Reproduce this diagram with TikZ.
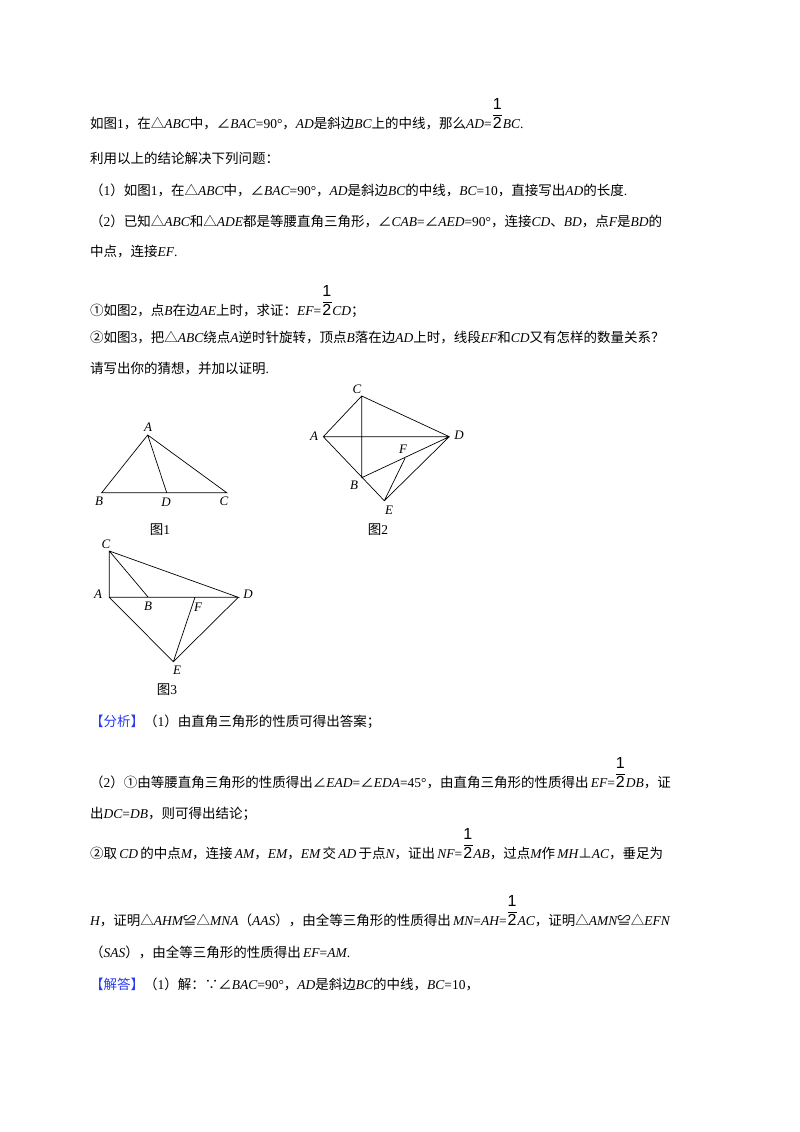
\documentclass[tikz,border=0pt]{standalone}
\usepackage{fontspec}
\setmainfont{Noto Sans CJK SC}
\newfontfamily\latf{Liberation Serif}
\newfontfamily\fracf{Liberation Sans}
\newcommand{\m}[1]{{\latf\itshape #1}}
\newcommand{\up}[1]{{\latf #1}}
\newcommand{\hf}{\raisebox{0pt}[0pt][0pt]{\makebox[11pt]{\fontsize{16}{16}\fracf\rlap{\raisebox{19pt}{1}}\rlap{\hspace{0.5pt}\raisebox{12.5pt}{\rule{9pt}{1pt}}}2}}}
\definecolor{hblue}{HTML}{2B3BF0}
\begin{document}
\begin{tikzpicture}[x=1pt,y=-1pt,
  txt/.style={anchor=west,inner sep=0pt,font=\fontsize{13.5}{14}\selectfont},
  lab/.style={inner sep=1pt,font=\fontsize{13}{13}\latf\itshape},
  figcap/.style={inner sep=0pt,font=\fontsize{13.5}{14}\selectfont},
  seg/.style={line width=0.7pt}]
\useasboundingbox[fill=white] (0,0) rectangle (800,1132);
\node[txt] (l1) at (90,124) {如图\up{1}，在△\m{ABC}中，∠\m{BAC}\up{=90°}，\m{AD}是斜边\m{BC}上的中线，那么\m{AD}\up{=}\hf\m{BC}\up{.}};
\node[txt] (l2) at (90,158) {利用以上的结论解决下列问题：};
\node[txt] (l3) at (90,190) {（\up{1}）如图\up{1}，在△\m{ABC}中，∠\m{BAC}\up{=90°}，\m{AD}是斜边\m{BC}的中线，\m{BC}\up{=10}，直接写出\m{AD}的长度\up{.}};
\node[txt] (l4) at (90,221) {（\up{2}）已知△\m{ABC}和△\m{ADE}都是等腰直角三角形，∠\m{CAB}\up{=}∠\m{AED}\up{=90°}，连接\m{CD}、\m{BD}，点\m{F}是\m{BD}的};
\node[txt] (l5) at (90,252) {中点，连接\m{EF}\up{.}};
\node[txt] (l6) at (90,311) {①如图\up{2}，点\m{B}在边\m{AE}上时，求证：\m{EF}\up{=}\hf\m{CD}；};
\node[txt] (l7) at (90,338) {②如图\up{3}，把△\m{ABC}绕点\m{A}逆时针旋转，顶点\m{B}落在边\m{AD}上时，线段\m{EF}和\m{CD}又有怎样的数量关系？};
\node[txt] (l8) at (90,369) {请写出你的猜想，并加以证明\up{.}};
% figure 1
\coordinate (A1) at (147.7,435); \coordinate (B1) at (101.7,492.7);
\coordinate (D1) at (166.7,492.7); \coordinate (C1) at (226.7,492.7);
\draw[seg] (A1)--(B1)--(C1)--cycle (A1)--(D1);
\node[lab] (tA1) at (148,427) {A}; \node[lab] (tB1) at (99,501) {B};
\node[lab] (tD1) at (166,502) {D}; \node[lab] (tC1) at (224,501) {C};
\node[figcap] (c1) at (160,530) {图\up{1}};
% figure 2
\coordinate (C2) at (361.7,396); \coordinate (A2) at (323.3,436.7);
\coordinate (D2) at (449.3,436.7); \coordinate (B2) at (361.7,477.7);
\coordinate (E2) at (384.3,500.7); \coordinate (F2) at (405,458.3);
\draw[seg] (A2)--(C2)--(D2)--(E2)--cycle (A2)--(D2) (C2)--(B2)--(D2) (F2)--(E2);
\node[lab] (tC2) at (357,389) {C}; \node[lab] (tA2) at (314,436) {A};
\node[lab] (tD2) at (459,435) {D}; \node[lab] (tB2) at (354,485) {B};
\node[lab] (tE2) at (389,510) {E}; \node[lab] (tF2) at (403,449) {F};
\node[figcap] (c2) at (378,530) {图\up{2}};
% figure 3
\coordinate (C3) at (109.3,551); \coordinate (A3) at (109.3,597.3);
\coordinate (B3) at (148.3,597.3); \coordinate (F3) at (195,597.3);
\coordinate (D3) at (238.3,597.3); \coordinate (E3) at (173.3,661.7);
\draw[seg] (C3)--(A3)--(D3)--cycle (C3)--(B3) (A3)--(E3)--(D3) (F3)--(E3);
\node[lab] (tC3) at (106,544) {C}; \node[lab] (tA3) at (98,594) {A};
\node[lab] (tB3) at (148,606) {B}; \node[lab] (tF3) at (198,607) {F};
\node[lab] (tD3) at (248,594) {D}; \node[lab] (tE3) at (177,670) {E};
\node[figcap] (c3) at (167,690) {图\up{3}};
% analysis
\node[txt] (a1) at (90,722) {\textcolor{hblue}{【分析】}（\up{1}）由直角三角形的性质可得出答案；};
\node[txt] (a2) at (90,782) {（\up{2}）①由等腰直角三角形的性质得出∠\m{EAD}\up{=}∠\m{EDA}\up{=45°}，由直角三角形的性质得出\,\m{EF}\up{=}\hf\m{DB}，证};
\node[txt] (a3) at (90,814) {出\m{DC}\up{=}\m{DB}，则可得出结论；};
\node[txt] (a4) at (90,853) {②取\,\m{CD}\,的中点\m{M}，连接\,\m{AM}，\m{EM}，\m{EM}\,交\,\m{AD}\,于点\m{N}，证出\,\m{NF}\up{=}\hf\m{AB}，过点\m{M}作\,\m{MH}⊥\m{AC}，垂足为};
\node[txt] (a5) at (90,920) {\m{H}，证明△\m{AHM}≌△\m{MNA}（\m{AAS}），由全等三角形的性质得出\,\m{MN}\up{=}\m{AH}\up{=}\hf\m{AC}，证明△\m{AMN}≌△\m{EFN}};
\node[txt] (a6) at (90,952) {（\m{SAS}），由全等三角形的性质得出\,\m{EF}\up{=}\m{AM}\up{.}};
\node[txt] (a7) at (90,984) {\textcolor{hblue}{【解答】}（\up{1}）解：∵∠\m{BAC}\up{=90°}，\m{AD}是斜边\m{BC}的中线，\m{BC}\up{=10}，};
\end{tikzpicture}
\end{document}
